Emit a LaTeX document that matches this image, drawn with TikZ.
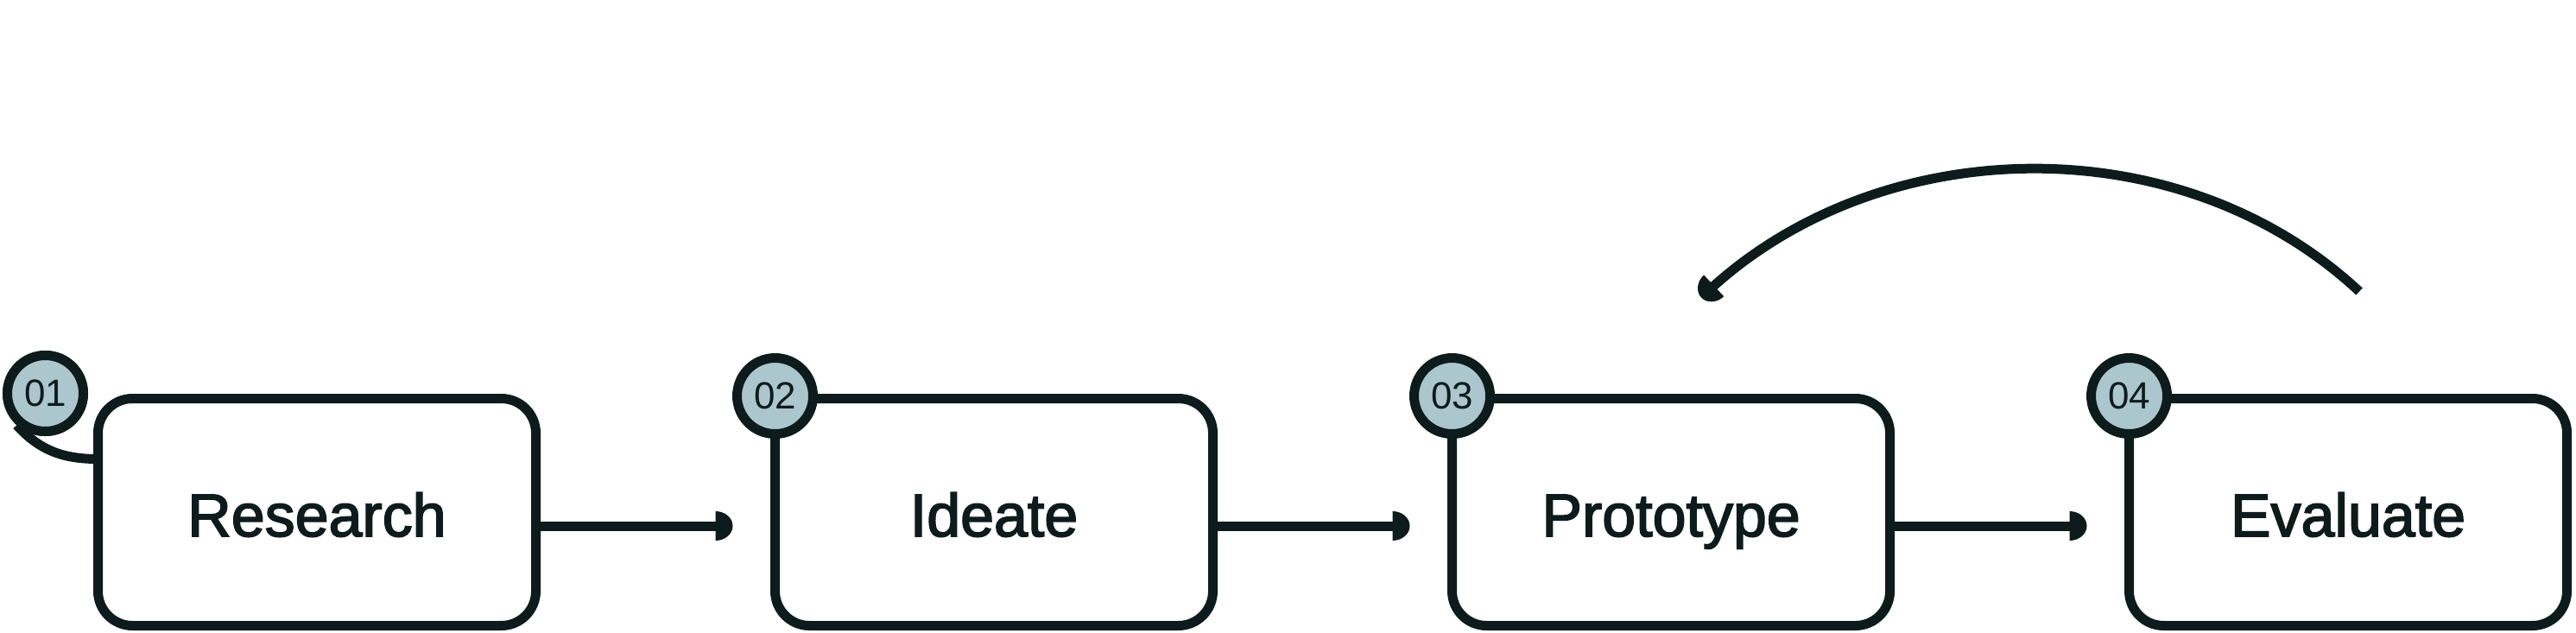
\documentclass[tikz,border=0pt]{standalone}
\usepackage{fontspec}
\setmainfont{Liberation Sans}
\newfontfamily\stagefont[FakeBold=2.4]{Liberation Sans}
\usepackage{tikz}
\usetikzlibrary{positioning,arrows.meta}
\usepackage{xcolor}
\definecolor{ink}{RGB}{14,27,28}
\definecolor{badgefill}{RGB}{171,198,205}

% half-disc arrow head
\pgfdeclarearrow{
  name = Dome,
  parameters = {\the\pgfarrowlength,\the\pgfarrowwidth},
  setup code = {
    \pgfarrowssettipend{\pgfarrowlength}
    \pgfarrowssetlineend{.5\pgfarrowlength}
    \pgfarrowssetbackend{0pt}
    \pgfarrowssetvisualbackend{0pt}
    \pgfarrowshullpoint{0pt}{.5\pgfarrowwidth}
    \pgfarrowshullpoint{0pt}{-.5\pgfarrowwidth}
    \pgfarrowshullpoint{\pgfarrowlength}{0pt}
    \pgfarrowssavethe\pgfarrowlength
    \pgfarrowssavethe\pgfarrowwidth
  },
  drawing code = {
    \pgfpathmoveto{\pgfqpoint{0pt}{.5\pgfarrowwidth}}
    \pgfpatharc{90}{-90}{\pgfarrowlength and .5\pgfarrowwidth}
    \pgfpathclose
    \pgfusepathqfill
  },
  defaults = {length=2mm, width=3.4mm}
}

\begin{document}
\begin{tikzpicture}[
  stage/.style={draw=ink,line width=0.11cm,rounded corners=0.4cm,fill=white,outer sep=0pt,
    minimum width=5.07cm,minimum height=2.63cm,text height=0.56cm,text depth=0cm,
    font=\stagefont\fontsize{19.9}{24}\selectfont,text=ink},
  badge/.style={circle,draw=ink,line width=0.11cm,fill=badgefill,minimum size=0.88cm,
    inner sep=0pt,text height=0.3cm,text depth=0cm,font=\fontsize{12.5}{14}\selectfont,text=ink},
  flow/.style={color=ink,line width=0.11cm,-{Dome[length=2mm,width=3.4mm]}},
  node distance=2.77cm]
\useasboundingbox (0,0) rectangle (29.83,7.32);
\node[stage] (s1) at (3.67,1.39) {Research};
\node[stage,right=of s1] (s2) {Ideate};
\node[stage,right=of s2] (s3) {Prototype};
\node[stage,right=of s3] (s4) {Evaluate};
\draw[flow] ([yshift=-0.16cm]s1.east) -- ([xshift=-0.49cm,yshift=-0.16cm]s2.west);
\draw[flow] ([yshift=-0.16cm]s2.east) -- ([xshift=-0.49cm,yshift=-0.16cm]s3.west);
\draw[flow] ([yshift=-0.16cm]s3.east) -- ([xshift=-0.49cm,yshift=-0.16cm]s4.west);
% loop back
\coordinate (la) at ([xshift=0.13cm,yshift=1.24cm]s4.north);
\coordinate (lb) at ([xshift=0.35cm,yshift=1.17cm]s3.north);
\draw[flow] (la) to[out=137,in=43,looseness=0.95] (lb);
\coordinate (t1) at ([yshift=-0.7cm]s1.north west);
\node[badge] (n1) at ([xshift=-0.61cm,yshift=0.06cm]s1.north west) {01};
\draw[ink,line width=0.11cm] (n1.228) to[out=-48,in=180] (t1);
\node[badge] at (n1) {01};
\node[badge] (n2) at ([yshift=0.03cm]s2.north west) {02};
\node[badge] (n3) at ([yshift=0.03cm]s3.north west) {03};
\node[badge] (n4) at ([yshift=0.03cm]s4.north west) {04};
\end{tikzpicture}
\end{document}
